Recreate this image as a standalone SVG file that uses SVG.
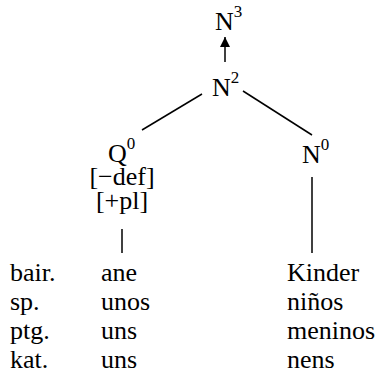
<svg xmlns="http://www.w3.org/2000/svg" width="380" height="379" viewBox="0 0 380 379">
  <style>
    .t { font-family: "Liberation Serif", "Times New Roman", Times, serif; font-size: 26px; fill: #000; }
    .sup { font-size: 17px; }
    .edge { stroke: #000; stroke-width: 1.5; fill: none; }
  </style>
  <defs>
    <marker id="arrow" viewBox="0 0 10 10" refX="10" refY="5" markerWidth="10" markerHeight="10" markerUnits="userSpaceOnUse" orient="auto">
      <path d="M0,0 L10,5 L0,10 Z" fill="#000"/>
    </marker>
  </defs>
  <rect width="380" height="379" fill="#fff"/>
  <g id="connectors">
    <line class="edge" x1="225" y1="62" x2="225" y2="37" marker-end="url(#arrow)"/>
    <line class="edge" x1="202" y1="94" x2="142" y2="130"/>
    <line class="edge" x1="243" y1="91" x2="312" y2="135"/>
    <line class="edge" x1="122" y1="229" x2="122" y2="253"/>
    <line class="edge" x1="312" y1="177" x2="312" y2="253"/>
  </g>
  <g id="node-N3">
    <text class="t" x="215" y="30">N<tspan class="sup" dy="-13">3</tspan></text>
  </g>
  <g id="node-N2">
    <text class="t" x="212" y="96">N<tspan class="sup" dy="-13">2</tspan></text>
  </g>
  <g id="node-Q0">
    <text class="t" x="108" y="162">Q<tspan class="sup" dy="-13">0</tspan></text>
    <text class="t" x="122" y="185" text-anchor="middle">[−def]</text>
    <text class="t" x="122" y="209" text-anchor="middle">[+pl]</text>
  </g>
  <g id="node-N0">
    <text class="t" x="302" y="163">N<tspan class="sup" dy="-13">0</tspan></text>
  </g>
  <g id="languages">
    <text class="t" x="10" y="281">bair.</text>
    <text class="t" x="10" y="310">sp.</text>
    <text class="t" x="10" y="339">ptg.</text>
    <text class="t" x="10" y="368">kat.</text>
  </g>
  <g id="leaf-Q">
    <text class="t" x="101" y="281">ane</text>
    <text class="t" x="101" y="310">unos</text>
    <text class="t" x="101" y="339">uns</text>
    <text class="t" x="101" y="368">uns</text>
  </g>
  <g id="leaf-N">
    <text class="t" x="287" y="281">Kinder</text>
    <text class="t" x="287" y="310">niños</text>
    <text class="t" x="287" y="339">meninos</text>
    <text class="t" x="287" y="368">nens</text>
  </g>
</svg>
